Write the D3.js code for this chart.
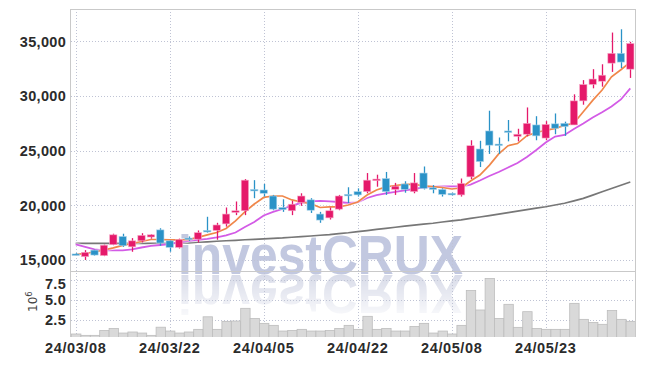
<!DOCTYPE html>
<html><head><meta charset="utf-8">
<script src="https://cdn.jsdelivr.net/npm/d3@7"></script>
<style>
html,body{margin:0;padding:0;background:#fff;}
svg{display:block;}
</style></head>
<body>
<svg id="chart" width="645" height="366"></svg>
<script>
const dates = ["24/03/08","24/03/11","24/03/12","24/03/13","24/03/14","24/03/15","24/03/18","24/03/19","24/03/20","24/03/21",
"24/03/22","24/03/25","24/03/26","24/03/27","24/03/28","24/03/29","24/04/01","24/04/02","24/04/03","24/04/04",
"24/04/05","24/04/08","24/04/09","24/04/11","24/04/12","24/04/15","24/04/16","24/04/17","24/04/18","24/04/19",
"24/04/22","24/04/23","24/04/24","24/04/25","24/04/26","24/04/29","24/04/30","24/05/02","24/05/03","24/05/07",
"24/05/08","24/05/09","24/05/10","24/05/13","24/05/14","24/05/16","24/05/17","24/05/20","24/05/21","24/05/22",
"24/05/23","24/05/24","24/05/27","24/05/28","24/05/29","24/05/30","24/05/31","24/06/03","24/06/04","24/06/05"];

const open  = [15550,15300,15900,15400,16400,17150,16200,16750,17100,17750,
16750,16150,17000,16900,17700,17700,18300,19350,19500,21450,
21400,20850,19800,19500,20250,20500,19200,18850,19650,21000,
21250,21250,22250,22450,21450,21950,21250,22950,21600,21450,
21100,20950,22600,25150,26800,25600,26800,26300,26500,27350,
26150,27450,27500,27350,29550,31050,31350,33000,33900,32450];
const high  = [15650,15900,15950,16400,17400,17400,17000,17450,17350,17900,
16800,16950,17150,17700,18950,18400,19800,20350,22400,22300,
21950,20950,20550,20400,21100,20650,19400,19800,20950,21650,
21550,22950,22800,23050,22050,22200,22950,23550,21850,21550,
21150,22450,25950,25900,28650,26200,27800,27000,28950,28150,
27700,28400,27650,30150,31450,32450,32900,35800,36100,34950];
const low   = [15450,15000,15400,15350,16350,16200,15750,16600,16950,16300,
15750,16050,16750,16600,17500,16850,18050,19100,19100,20650,
20800,19550,19400,19100,19950,19300,18400,18700,19550,20200,
20800,21100,21700,20950,20950,21150,21100,21450,21100,20800,
20900,20800,22400,23500,24700,24700,25850,25850,26300,25950,
25950,26500,26350,27350,29200,30700,30850,32200,32550,31650];
const close = [15500,15700,15450,16350,17300,16300,16750,17250,17300,16550,
16150,16850,16900,17500,17600,18200,19200,19500,22300,21400,
21100,19650,19600,20100,20850,19550,18650,19500,20850,20950,
20950,22300,22400,21250,21750,21450,22050,21550,21450,21000,
20950,22000,25450,24000,25500,25550,26700,26500,27500,26350,
27400,27050,27200,29550,31050,31550,31900,33900,33100,34800];

const ma5  = [15500,15600,15730,15910,16100,16330,16510,16690,16870,16870,
16830,16830,16870,17060,17290,17510,17880,18570,19390,20120,
20720,20850,20850,20490,20300,20150,19800,19850,19850,20030,
20300,20940,21400,21680,21810,21920,21920,21790,21700,21630,
21490,21580,22220,22770,23650,24700,25450,25650,26370,26660,
26860,27040,27300,27530,28550,29600,30550,31750,32400,33100];
const ma20 = [16420,16190,15960,15870,15870,15870,15960,16140,16280,16370,
16460,16600,16740,16830,16920,17060,17240,17510,18020,18480,
19070,19390,19660,19980,20210,20350,20400,20350,20300,20210,
20260,20670,20940,21100,21220,21360,21490,21630,21700,21720,
21740,21720,21900,22270,22680,23050,23460,23870,24420,25060,
25750,26290,26430,26980,27480,28030,28510,29040,29680,30700];
const ma60 = [16510,16510,16510,16510,16510,16510,16510,16510,16510,16510,
16530,16550,16570,16620,16660,16710,16760,16800,16850,16890,
16930,16980,17020,17080,17130,17190,17260,17320,17410,17490,
17590,17690,17800,17890,17990,18090,18180,18270,18360,18470,
18570,18670,18800,18930,19060,19190,19330,19460,19600,19740,
19870,20030,20190,20400,20630,20930,21240,21540,21840,22130];

const volume = [0.75,0.58,0.58,1.2,1.45,0.87,1.0,0.87,0.58,1.6,
1.12,0.87,1.0,1.33,2.9,1.33,2.33,2.37,3.96,2.7,
2.08,1.83,1.12,1.2,1.33,1.12,1.12,1.2,1.45,1.83,
1.33,2.96,1.33,1.45,1.12,1.12,1.7,2.08,0.87,1.12,
0.75,1.83,6.2,3.75,7.7,2.7,4.46,1.58,3.54,1.45,
1.33,1.33,1.33,4.58,2.58,2.2,1.96,3.7,2.58,2.33];

const priceTicks = [15000,20000,25000,30000,35000];
const volTicks = [2.5,5.0,7.5];
const dateTicks = ["24/03/08","24/03/22","24/04/05","24/04/22","24/05/08","24/05/23"];

const svg = d3.select("#chart");
const L = 71, R = 635, T = 9, PB = 271, VT = 272, VB = 337;
const UP = "#e5196a", DOWN = "#2a92c7";
const gridC = "#bfc3d4";
const font = "'Liberation Sans Narrow','Arial Narrow',sans-serif";

const x = d3.scaleBand().domain(dates).range([L, R]).paddingInner(0.22).paddingOuter(0.11);
const xv = d3.scaleBand().domain(dates).range([L, R]).padding(0);
const cx = d => x(d) + x.bandwidth() / 2;
const y = d3.scaleLinear().domain([14000, 38000]).range([270.9, 8.5]);
const yv = d3.scaleLinear().domain([0, 8.5]).range([340, 272]);

// defs
const defs = svg.append("defs");
defs.append("clipPath").attr("id","cp").append("rect").attr("x",L).attr("y",T).attr("width",R-L).attr("height",PB-T);
defs.append("clipPath").attr("id","cv").append("rect").attr("x",L).attr("y",VT).attr("width",R-L).attr("height",VB-VT);
const lg = defs.append("linearGradient").attr("id","fade").attr("gradientUnits","userSpaceOnUse")
  .attr("x1",0).attr("y1",275).attr("x2",0).attr("y2",325);
lg.append("stop").attr("offset",0).attr("stop-color","#fff").attr("stop-opacity",1);
lg.append("stop").attr("offset",1).attr("stop-color","#fff").attr("stop-opacity",0);
defs.append("mask").attr("id","rm").attr("maskUnits","userSpaceOnUse")
  .attr("x",0).attr("y",0).attr("width",645).attr("height",366)
  .append("rect").attr("x",0).attr("y",272).attr("width",645).attr("height",60).attr("fill","url(#fade)");

// watermark
const wm = svg.append("g");
const wmFont = "'Liberation Sans',Arial,sans-serif";
wm.append("text").attr("x",178).attr("y",274)
  .attr("font-family",wmFont).attr("font-weight","bold").attr("font-size",56)
  .attr("textLength",285).attr("lengthAdjust","spacingAndGlyphs")
  .attr("fill","#c2c8e0").text("investCRUX");
wm.append("g").attr("mask","url(#rm)").append("text").attr("x",178).attr("y",274)
  .attr("transform","translate(0,549) scale(1,-1)")
  .attr("font-family",wmFont).attr("font-weight","bold").attr("font-size",56)
  .attr("textLength",285).attr("lengthAdjust","spacingAndGlyphs")
  .attr("fill","#d9dce9").text("investCRUX");

// gridlines
const grid = svg.append("g").attr("stroke",gridC).attr("stroke-dasharray","1,2").attr("stroke-width",1);
grid.selectAll(".hp").data(priceTicks).join("line")
  .attr("x1",L).attr("x2",R).attr("y1",d=>Math.round(y(d))+0.5).attr("y2",d=>Math.round(y(d))+0.5);
grid.selectAll(".hv").data(volTicks).join("line")
  .attr("x1",L).attr("x2",R).attr("y1",d=>Math.round(yv(d))+0.5).attr("y2",d=>Math.round(yv(d))+0.5);
grid.selectAll(".vx").data(dateTicks).join("line")
  .attr("x1",d=>Math.round(cx(d))+0.5).attr("x2",d=>Math.round(cx(d))+0.5).attr("y1",T).attr("y2",VB);

// volume bars
svg.append("g").attr("clip-path","url(#cv)").selectAll("rect").data(dates).join("rect")
  .attr("x",d=>xv(d)+0.5).attr("width",xv.bandwidth())
  .attr("y",(d,i)=>yv(volume[i])).attr("height",(d,i)=>yv(0)-yv(volume[i]))
  .attr("fill","#d9d9d9").attr("stroke","#bdbdbd").attr("stroke-width",0.8);

// frame
const fr = svg.append("g").attr("stroke","#c9c9c9").attr("stroke-width",1).attr("fill","none");
fr.append("line").attr("x1",L).attr("x2",R).attr("y1",T+0.5).attr("y2",T+0.5);
fr.append("line").attr("x1",L).attr("x2",R).attr("y1",VT-0.5).attr("y2",VT-0.5);
fr.append("line").attr("x1",L-0.5).attr("x2",L-0.5).attr("y1",T).attr("y2",VB);
fr.append("line").attr("x1",R+0.5).attr("x2",R+0.5).attr("y1",T).attr("y2",VB);

// MA lines
const pg = svg.append("g").attr("clip-path","url(#cp)");
const lineGen = arr => d3.line().x(d=>cx(d)).y((d,i)=>y(arr[i]))(dates);
[[ma60,"#777777",1.7],[ma20,"#d35be6",1.8],[ma5,"#f0874a",1.7]].forEach(([arr,c,w])=>{
  pg.append("path").attr("d",lineGen(arr)).attr("fill","none").attr("stroke","#fff").attr("stroke-opacity",0.5).attr("stroke-width",w+2);
  pg.append("path").attr("d",lineGen(arr)).attr("fill","none").attr("stroke",c).attr("stroke-width",w);
});

// candles
const cg = pg.append("g");
const cs = cg.selectAll("g").data(dates).join("g");
cs.append("line")
  .attr("x1",d=>Math.round(cx(d))+0.5).attr("x2",d=>Math.round(cx(d))+0.5)
  .attr("y1",(d,i)=>y(high[i])).attr("y2",(d,i)=>y(low[i]))
  .attr("stroke",(d,i)=>close[i]>=open[i]?UP:DOWN).attr("stroke-width",1.3);
cs.append("rect")
  .attr("x",d=>x(d)).attr("width",x.bandwidth())
  .attr("y",(d,i)=>y(Math.max(open[i],close[i])))
  .attr("height",(d,i)=>Math.max(1.5, Math.abs(y(open[i])-y(close[i]))))
  .attr("fill",(d,i)=>close[i]>=open[i]?UP:DOWN)
  .attr("stroke",(d,i)=>close[i]>=open[i]?"#f7a9c8":"#a9d3ea").attr("stroke-width",0.6);

// axes labels
const lab = svg.append("g").attr("font-family",font).attr("font-weight","bold").attr("fill","#2b2b2b");
lab.selectAll(".py").data(priceTicks).join("text")
  .attr("x",66).attr("y",d=>y(d)).attr("dy","0.36em").attr("text-anchor","end")
  .attr("font-size",14.5).attr("letter-spacing",0.3).text(d3.format(","));
lab.selectAll(".vy").data(volTicks).join("text")
  .attr("x",66).attr("y",d=>Math.max(yv(d), 283.5)).attr("dy","0.36em").attr("text-anchor","end")
  .attr("font-size",14.5).attr("letter-spacing",0.3).text(d3.format(".1f"));
lab.selectAll(".dx").data(dateTicks).join("text")
  .attr("x",d=>cx(d)).attr("y",353).attr("text-anchor","middle")
  .attr("font-size",14.5).attr("letter-spacing",0.6).text(d=>d);

const unit = svg.append("text").attr("transform","translate(37,312) rotate(-90)")
  .attr("font-family","'DejaVu Sans',sans-serif").attr("font-size",12).attr("fill","#444");
unit.append("tspan").text("10");
unit.append("tspan").attr("dy",-5).attr("font-size",8.5).text("6");
</script>
</body></html>
